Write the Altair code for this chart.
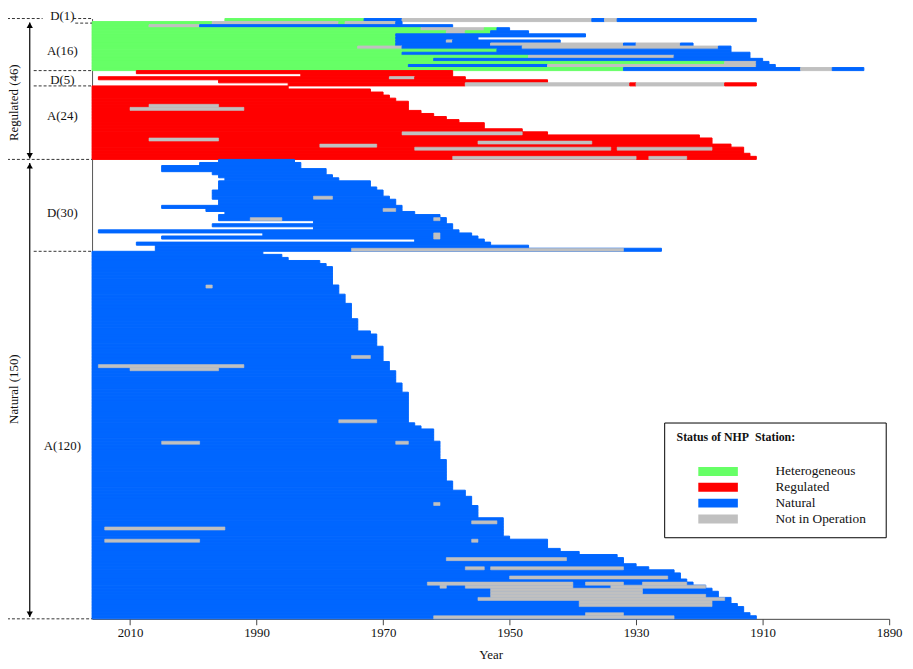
import altair as alt
import pandas as pd

# ---------------- data ----------------
NOW = 2016
STATUS_NAMES = ["Heterogeneous", "Regulated", "Natural", "Not in Operation"]
STATUS_COLORS = ["#66FF66", "#FF0000", "#0066FF", "#C0C0C0"]
CODES = {"H": "Heterogeneous", "R": "Regulated", "N": "Natural", "X": "Not in Operation"}

GROUP_LABELS = ["D(1)", "A(16)", "D(5)", "A(24)", "D(30)", "A(120)"]
GROUP_SIZES = [1, 16, 5, 24, 30, 120]
CLASS_LABELS = ["Regulated (46)", "Natural (150)"]
CLASS_SIZES = [46, 150]
YEAR_TICKS = [2010, 1990, 1970, 1950, 1930, 1910, 1890]

# regulated stations: [year, status, year, status, ..., year] (newest -> oldest)
REG_D1 = [[1995, "H", 1973, "N", 1967, "X", 1937, "N", 1935, "X", 1933, "N", 1911]]
REG_A16 = [
    [2016, "H", 1997, "X", 1977, "H", 1976, "X", 1968, "N", 1967],
    [2016, "H", 2007, "X", 1999, "N", 1959],
    [2016, "H", 1964, "X", 1954, "H", 1952, "N", 1950],
    [2016, "H", 1960, "X", 1957, "H", 1953, "N", 1947],
    [2016, "H", 1968, "N", 1938],
    [2016, "H", 1968, "N", 1955],
    [2016, "H", 1968, "N", 1960, "X", 1959, "N", 1942],
    [2016, "H", 1968, "N", 1953, "X", 1932, "N", 1930, "X", 1923, "N", 1921],
    [2016, "H", 1974, "X", 1967, "N", 1948, "X", 1917, "N", 1915],
    [2016, "H", 1952, "N", 1915],
    [2016, "H", 1967, "N", 1912],
    [2016, "H", 1947, "X", 1924, "N", 1912],
    [2016, "H", 1962, "N", 1910],
    [2016, "H", 1916, "X", 1911, "N", 1909],
    [2016, "H", 1966, "N", 1944, "X", 1911, "N", 1908],
    [2016, "H", 1932, "N", 1904, "X", 1899, "N", 1894],
]
REG_D5 = [
    [2009, "R", 1959],
    [1983, "R", 1959],
    [2015, "R", 1969, "X", 1965, "R", 1957],
    [1996, "R", 1944],
    [1985, "R", 1957, "X", 1931, "R", 1930, "X", 1916, "R", 1911],
]
REG_A24_START = [1985, 1972, 1970, 1969, 1968, 1966, 1966, 1966, 1964, 1962, 1960, 1958,
                 1954, 1954, 1948, 1944, 1920, 1918, 1918, 1915, 1913, 1913, 1912, 1911]
REG_A24_GAPS = [(6, 2007, 1996), (7, 2010, 1992), (15, 1967, 1948), (17, 2007, 1996),
                (18, 1955, 1937), (19, 1980, 1971), (20, 1965, 1934), (20, 1933, 1918),
                (23, 1959, 1930), (23, 1928, 1922)]

NAT_D30_END = [1996, 1999, 2005, 2005, 1997, 1996, 1995, 1996, 1996, 1996, 1997, 1997, 1997, 1996, 1996,
               2005, 1998, 1995, 1996, 1996, 1981, 1997, 1981, 2015, 1989, 2005, 1965, 2009, 2006, 2006]
NAT_D30_START = [1984, 1983, 1983, 1979, 1979, 1978, 1977, 1972, 1972, 1971, 1970, 1970, 1969, 1968, 1968,
                 1967, 1967, 1965, 1961, 1960, 1960, 1959, 1959, 1958, 1956, 1955, 1954, 1953, 1947, 1926]
NAT_D30_GAPS = [(12, 1981, 1978), (16, 1970, 1968), (19, 1991, 1986), (19, 1962, 1961),
                (24, 1962, 1961), (25, 1962, 1961), (29, 1975, 1932)]

NAT_A120_START = [1989, 1986, 1985, 1980, 1979,
                  1978, 1978, 1978, 1978, 1978, 1978,
                  1977, 1977, 1977, 1976, 1976, 1976,
                  1975, 1975, 1975, 1975, 1975, 1974, 1974, 1974, 1974,
                  1972, 1971, 1971, 1971, 1971,
                  1970, 1970, 1970, 1970, 1970, 1969, 1969, 1969,
                  1968, 1968, 1968, 1968, 1967, 1967, 1967,
                  1966, 1966, 1966, 1966, 1966, 1966, 1966, 1966, 1966, 1966,
                  1965, 1964, 1962, 1962, 1962, 1962,
                  1961, 1961, 1961, 1961, 1961, 1961,
                  1960, 1960, 1960, 1960, 1960, 1960, 1960,
                  1959, 1959, 1959, 1957, 1957, 1956, 1956, 1956,
                  1955, 1955, 1955, 1955, 1951, 1951, 1951, 1951, 1951, 1951, 1950,
                  1944, 1944, 1944, 1942, 1939, 1933, 1932, 1932, 1930, 1928, 1924,
                  1923, 1923, 1922, 1921, 1919, 1918, 1917, 1917, 1915, 1915,
                  1914, 1913, 1913, 1912, 1911]
NAT_A120_GAPS = [(11, 1998, 1997), (34, 1975, 1972), (37, 2015, 1992), (38, 2010, 1996),
                 (55, 1977, 1971), (62, 2005, 1999), (62, 1968, 1966), (82, 1962, 1961),
                 (88, 1956, 1952), (90, 2014, 1995), (94, 2014, 1999), (94, 1956, 1955),
                 (100, 1960, 1941), (103, 1957, 1954), (103, 1953, 1932), (106, 1950, 1925),
                 (108, 1963, 1940), (108, 1938, 1932), (108, 1929, 1922), (109, 1961, 1960),
                 (109, 1957, 1940), (109, 1934, 1919), (110, 1953, 1929), (111, 1953, 1929),
                 (112, 1953, 1919), (113, 1955, 1916), (114, 1939, 1918), (115, 1939, 1918),
                 (118, 1938, 1932), (119, 1962, 1924)]

# ---------------- build tables ----------------
offs = [0]
for n in GROUP_SIZES:
    offs.append(offs[-1] + n)
NROWS = offs[-1]

segs, gaps = [], []


def add(row, spec, target):
    for i in range(0, len(spec) - 2, 2):
        target.append({"r0": row, "r1": row + 1, "a": spec[i], "b": spec[i + 2],
                       "status": CODES[spec[i + 1]]})


for i, s in enumerate(REG_D1):
    add(offs[0] + i, s, segs)
for i, s in enumerate(REG_A16):
    add(offs[1] + i, s, segs)
for i, s in enumerate(REG_D5):
    add(offs[2] + i, s, segs)
for i, y in enumerate(REG_A24_START):
    add(offs[3] + i, [NOW, "R", y], segs)
for i, a, b in REG_A24_GAPS:
    add(offs[3] + i, [a, "X", b], gaps)
for i, (e, s) in enumerate(zip(NAT_D30_END, NAT_D30_START)):
    add(offs[4] + i, [e, "N", s], segs)
for i, a, b in NAT_D30_GAPS:
    add(offs[4] + i, [a, "X", b], gaps)
for i, y in enumerate(NAT_A120_START):
    add(offs[5] + i, [NOW, "N", y], segs)
for i, a, b in NAT_A120_GAPS:
    add(offs[5] + i, [a, "X", b], gaps)

seg_df = pd.DataFrame(segs)
gap_df = pd.DataFrame(gaps)

SERIF = "Liberation Serif"
xscale = alt.Scale(domain=[1890, NOW], reverse=True, nice=False, zero=False)
yscale = alt.Scale(domain=[0, NROWS], reverse=True, nice=False, zero=False)
cscale = alt.Scale(domain=STATUS_NAMES, range=STATUS_COLORS)
xaxis = alt.Axis(values=YEAR_TICKS, format="d", title="Year", labelFont=SERIF, titleFont=SERIF,
                 labelFontSize=13, titleFontSize=13, titleFontWeight="normal", tickSize=6,
                 labelPadding=2, titlePadding=9, domainColor="#444", tickColor="#444",
                 labelColor="#111", titleColor="#111", grid=False, labelFlush=False)
yaxis = alt.Axis(labels=False, ticks=False, grid=False, title="", domainColor="#555")


def yenc(field):
    return alt.Y(f"{field}:Q", scale=yscale, axis=yaxis)


def bar_layer(df, sw):
    return alt.Chart(df).mark_rect(strokeWidth=sw).encode(
        x=alt.X("a:Q", scale=xscale, axis=xaxis), x2="b:Q",
        y=yenc("r0"), y2="r1:Q",
        color=alt.Color("status:N", scale=cscale, legend=None),
        stroke=alt.Stroke("status:N", scale=cscale, legend=None),
    )


bars = bar_layer(seg_df, 1.0)
gap_bars = bar_layer(gap_df, 0.6)

# ---------------- left annotations ----------------
dash = dict(strokeDash=[3, 2], color="#333", strokeWidth=1)
full_lines = alt.Chart(pd.DataFrame({"row": [offs[4], offs[6]]})).mark_rule(**dash).encode(
    y=yenc("row"), x=alt.value(-86), x2=alt.value(0))
top_a = alt.Chart(pd.DataFrame({"row": [offs[0]]})).mark_rule(**dash).encode(
    y=yenc("row"), x=alt.value(-86), x2=alt.value(-50))
top_b = alt.Chart(pd.DataFrame({"row": [offs[0]]})).mark_rule(**dash).encode(
    y=yenc("row"), x=alt.value(-19), x2=alt.value(0))
d1_line = alt.Chart(pd.DataFrame({"row": [offs[1] + 0.5]})).mark_rule(**dash).encode(
    y=yenc("row"), x=alt.value(-17), x2=alt.value(0))
short_lines = alt.Chart(pd.DataFrame({"row": [offs[2], offs[3], offs[5]]})).mark_rule(**dash).encode(
    y=yenc("row"), x=alt.value(-59), x2=alt.value(0))

arrow_df = pd.DataFrame({"top": [1.3, 47.2], "bot": [45.7, 195.4]})
arrow_line = alt.Chart(arrow_df).mark_rule(color="black", strokeWidth=1.2).encode(
    y=yenc("top"), y2="bot:Q", x=alt.value(-63))
arrow_up = alt.Chart(arrow_df).mark_point(shape="triangle-up", filled=True, size=40,
                                           color="black", opacity=1).encode(
    y=alt.Y("t2:Q", scale=yscale, axis=yaxis), x=alt.value(-63)).transform_calculate(t2="datum.top + 0.9")
arrow_dn = alt.Chart(arrow_df).mark_point(shape="triangle-down", filled=True, size=40,
                                           color="black", opacity=1).encode(
    y=alt.Y("b2:Q", scale=yscale, axis=yaxis), x=alt.value(-63)).transform_calculate(b2="datum.bot - 0.9")

nudge = [-1.3, 1.5, 0.5, -2.0, 2.5, 3.5]
grp_rows = [offs[i] + GROUP_SIZES[i] / 2 + nudge[i] for i in range(len(GROUP_SIZES))]
grp_df = pd.DataFrame({"label": GROUP_LABELS, "row": grp_rows})
grp_text = alt.Chart(grp_df).mark_text(font=SERIF, fontSize=13, align="center", baseline="middle",
                                       color="#111").encode(
    y=yenc("row"), x=alt.value(-30), text="label:N")

cls_nudge = [4.5, 0.0]
cls_rows = [sum(CLASS_SIZES[:i]) + CLASS_SIZES[i] / 2 + cls_nudge[i] for i in range(2)]
cls_df = pd.DataFrame({"label": CLASS_LABELS, "row": cls_rows})
cls_text = alt.Chart(cls_df).mark_text(font=SERIF, fontSize=13, align="center", baseline="middle",
                                       angle=270, color="#111").encode(
    y=yenc("row"), x=alt.value(-79), text="label:N")

# ---------------- legend (drawn box) ----------------
one = pd.DataFrame({"k": [0]})
leg_box = alt.Chart(one).mark_rect(fill="white", stroke="black", strokeWidth=1).encode(
    x=alt.value(579), x2=alt.value(803), y=alt.value(409), y2=alt.value(525))
leg_title = alt.Chart(one).mark_text(font=SERIF, fontSize=12, fontWeight="bold", align="left",
                                     baseline="middle", color="#111",
                                     text="Status of NHP\u00a0 Station:").encode(
    x=alt.value(591), y=alt.value(423))
leg_layers = [leg_box, leg_title]
for i, name in enumerate(STATUS_NAMES):
    cy = 458 + 16 * i
    dfi = pd.DataFrame({"status": [name]})
    leg_layers.append(alt.Chart(dfi).mark_rect(strokeWidth=0).encode(
        x=alt.value(613), x2=alt.value(653), y=alt.value(cy - 4.5), y2=alt.value(cy + 4.5),
        color=alt.Color("status:N", scale=cscale, legend=None)))
    leg_layers.append(alt.Chart(dfi).mark_text(font=SERIF, fontSize=13.5, align="left",
                                               baseline="middle", color="#111").encode(
        x=alt.value(691), y=alt.value(cy), text="status:N"))

chart = alt.layer(
    bars, gap_bars, full_lines, top_a, top_b, d1_line, short_lines,
    arrow_line, arrow_up, arrow_dn, grp_text, cls_text, *leg_layers
).properties(
    width=806, height=607,
    padding={"left": 85, "top": 7, "right": 16, "bottom": 40},
    autosize=alt.AutoSizeParams(type="none"),
).configure_view(strokeWidth=0)

chart.save("out.html", embed_options={"renderer": "svg", "actions": False})
